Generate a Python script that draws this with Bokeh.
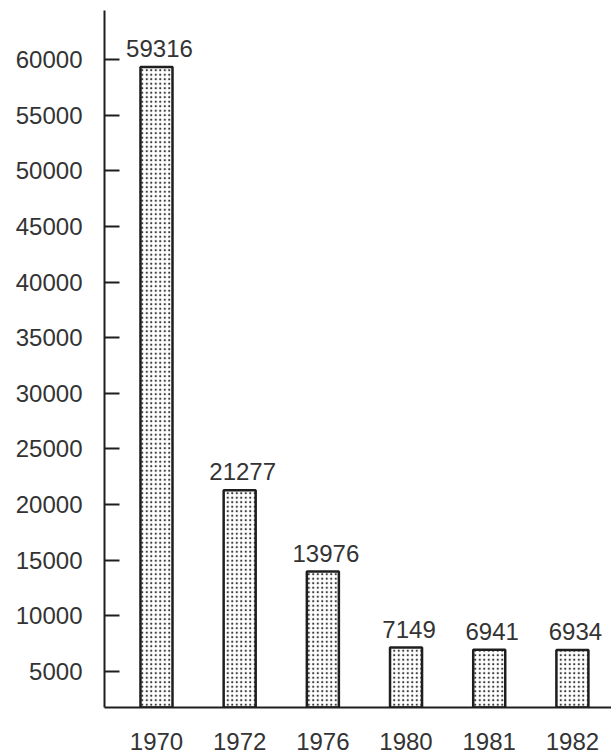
from bokeh.plotting import figure
from bokeh.models import Range1d, FixedTicker, ColumnDataSource, BasicTickFormatter
from bokeh.core.properties import value
from bokeh.embed import file_html
from bokeh.resources import INLINE

# ---- data ----
years = ["1970", "1972", "1976", "1980", "1981", "1982"]
counts = [59316, 21277, 13976, 7149, 6941, 6934]
y_ticks = [5000, 10000, 15000, 20000, 25000, 30000, 35000, 40000,
           45000, 50000, 55000, 60000]

# ---- style ----
FONT = "Liberation Sans"
TXT = "#333333"
INK = "#1e1e1e"
Y_START, Y_END = 1760, 64400

xs = list(range(len(years)))
src = ColumnDataSource(dict(x=xs, top=counts, label=[str(v) for v in counts]))

p = figure(width=611, height=756, output_backend="svg", toolbar_location=None,
           x_range=Range1d(-0.625, 5.47), y_range=Range1d(Y_START, Y_END),
           min_border_left=104, min_border_right=0, min_border_top=10,
           min_border_bottom=49)
p.outline_line_color = None
p.xgrid.visible = False
p.ygrid.visible = False
p.background_fill_color = "white"
p.border_fill_color = "white"

p.vbar(x="x", top="top", bottom=Y_START, width=0.385, source=src,
       fill_color="white", line_color=INK, line_width=2.5,
       hatch_pattern=".", hatch_color="#3a3a3a", hatch_scale=4.5, hatch_weight=1.6)

p.text(x="x", y="top", text="label", source=src, text_align="center",
       text_baseline="bottom", y_offset=-10, x_offset=3, text_font=value(FONT),
       text_font_size="24px", text_color=TXT)

# y axis
ya = p.yaxis[0]
ya.ticker = FixedTicker(ticks=y_ticks)
ya.formatter = BasicTickFormatter(use_scientific=False)
ya.major_tick_in = 15
ya.major_tick_out = 0
ya.minor_tick_line_color = None
ya.axis_line_width = 2
ya.axis_line_color = INK
ya.major_tick_line_width = 2
ya.major_tick_line_color = INK
ya.major_label_standoff = 22
ya.major_label_text_font = FONT
ya.major_label_text_font_size = "24px"
ya.major_label_text_color = TXT

# x axis
xa = p.xaxis[0]
xa.ticker = FixedTicker(ticks=xs)
xa.major_label_overrides = {i: y for i, y in zip(xs, years)}
xa.major_tick_in = 0
xa.major_tick_out = 0
xa.minor_tick_line_color = None
xa.axis_line_width = 2
xa.axis_line_color = INK
xa.major_label_standoff = 25
xa.major_label_text_font = FONT
xa.major_label_text_font_size = "24px"
xa.major_label_text_color = TXT

open("out.html", "w").write(file_html(p, INLINE))
